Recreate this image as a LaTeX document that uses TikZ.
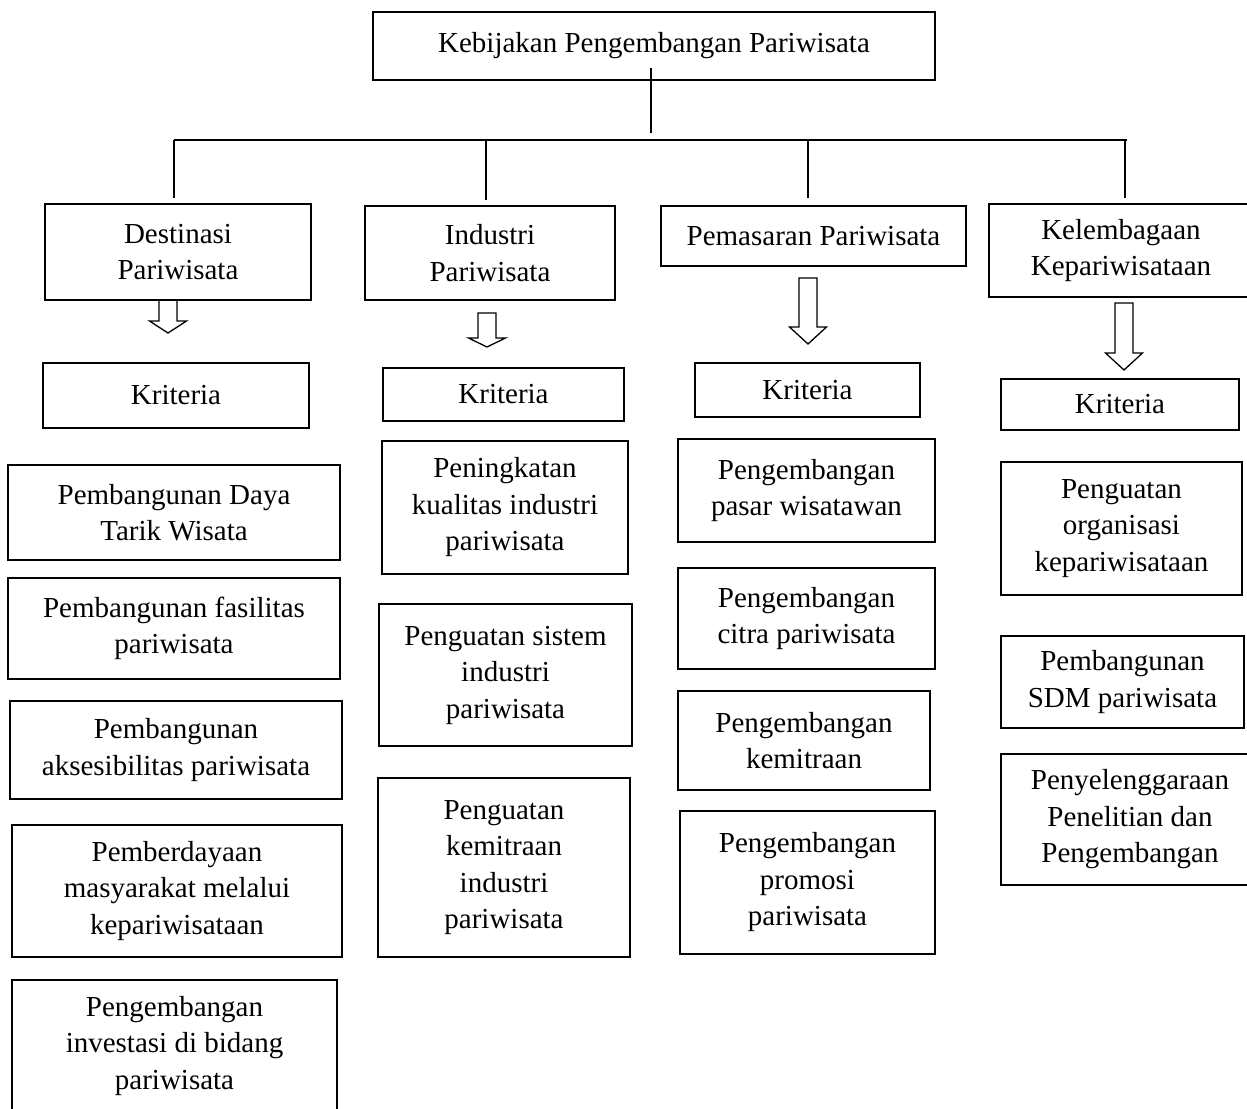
\documentclass[tikz,border=0pt]{standalone}
\usepackage{fontspec}
\setmainfont{Liberation Serif}
\begin{document}
\begin{tikzpicture}[x=1pt,y=-1pt,
  box/.style={draw,line width=1.6pt,inner sep=0pt,align=center,
    font=\fontsize{29}{36.5}\selectfont},
  link/.style={line width=1.4pt},
  blk/.style={draw,line width=1.3pt,line join=miter}]
\useasboundingbox (0,0) rectangle (1247,1108);
\newcommand\blockarr[4]{% cx, top, neck, tip
  \draw[blk] (#1-9,#2) -- (#1+9,#2) -- (#1+9,#3) -- (#1+18.5,#3) -- (#1,#4)
    -- (#1-18.5,#3) -- (#1-9,#3) -- cycle;}
% top
\node[box,minimum width=562,minimum height=68] (top) at (654,46) {Kebijakan Pengembangan Pariwisata};
% level 2
\node[box,minimum width=266,minimum height=96] (dest) at (178,252) {Destinasi\\Pariwisata};
\node[box,minimum width=250,minimum height=94] (ind) at (490,253) {Industri\\Pariwisata};
\node[box,minimum width=305,minimum height=60] (pem) at (813.5,236) {Pemasaran Pariwisata};
\node[box,minimum width=264,minimum height=93] (kel) at (1121,250.5) {Kelembagaan\\Kepariwisataan};
% connectors
\coordinate (tstart) at (651,68);
\coordinate (tend) at (651,133);
\coordinate (busL) at (174,140);
\coordinate (busR) at (1127,140);
\coordinate (b1) at (174,140); \coordinate (e1) at (174,198);
\coordinate (b2) at (486,140); \coordinate (e2) at (486,200);
\coordinate (b3) at (808,140); \coordinate (e3) at (808,198);
\coordinate (b4) at (1125,140); \coordinate (e4) at (1125,198);
\draw[line width=2.6pt] (tstart) -- (tend);
\draw[link,line width=1.8pt] (busL) -- (busR);
\draw[link] (b1) -- (e1);
\draw[link] (b2) -- (e2);
\draw[link] (b3) -- (e3);
\draw[link] (b4) -- (e4);
% block arrows
\blockarr{168}{300}{321}{333}
\blockarr{487}{313}{338}{347}
\blockarr{808}{278}{327}{344}
\blockarr{1124}{303}{353}{370}
% Kriteria
\node[box,minimum width=266,minimum height=65] (kd) at (176,395.5) {Kriteria};
\node[box,minimum width=241,minimum height=53] (ki) at (503.5,394.5) {Kriteria};
\node[box,minimum width=225,minimum height=54] (kp) at (807.5,390) {Kriteria};
\node[box,minimum width=238,minimum height=51] (kk) at (1120,404.5) {Kriteria};
% Destinasi column
\node[box,minimum width=332,minimum height=95] (d1) at (174,512.5) {Pembangunan Daya\\Tarik Wisata};
\node[box,minimum width=332,minimum height=101] (d2) at (174,628.5) {Pembangunan fasilitas\\pariwisata};
\node[box,minimum width=332,minimum height=98] (d3) at (176,750) {Pembangunan\\aksesibilitas pariwisata};
\node[box,minimum width=330,minimum height=132] (d4) at (177,891) {Pemberdayaan\\masyarakat melalui\\kepariwisataan};
\node[box,minimum width=325,minimum height=132] (d5) at (174.5,1046) {Pengembangan\\investasi di bidang\\pariwisata};
% Industri column
\node[box,minimum width=246,minimum height=133] (i1) at (505,507.5) {Peningkatan\\kualitas industri\\pariwisata};
\node[box,minimum width=253,minimum height=142] (i2) at (505.5,675) {Penguatan sistem\\industri\\pariwisata};
\node[box,minimum width=252,minimum height=179] (i3) at (504,867.5) {Penguatan\\kemitraan\\industri\\pariwisata};
% Pemasaran column
\node[box,minimum width=257,minimum height=103] (p1) at (806.5,490.5) {Pengembangan\\pasar wisatawan};
\node[box,minimum width=257,minimum height=101] (p2) at (806.5,618.5) {Pengembangan\\citra pariwisata};
\node[box,minimum width=252,minimum height=99] (p3) at (804,740.5) {Pengembangan\\kemitraan};
\node[box,minimum width=255,minimum height=143] (p4) at (807.5,882.5) {Pengembangan\\promosi\\pariwisata};
% Kelembagaan column
\node[box,minimum width=241,minimum height=133] (k1) at (1121.5,528.5) {Penguatan\\organisasi\\kepariwisataan};
\node[box,minimum width=243,minimum height=92] (k2) at (1122.5,682) {Pembangunan\\SDM pariwisata};
\node[box,minimum width=258,minimum height=131] (k3) at (1130,819.5) {Penyelenggaraan\\Penelitian dan\\Pengembangan};
\end{tikzpicture}
\end{document}
